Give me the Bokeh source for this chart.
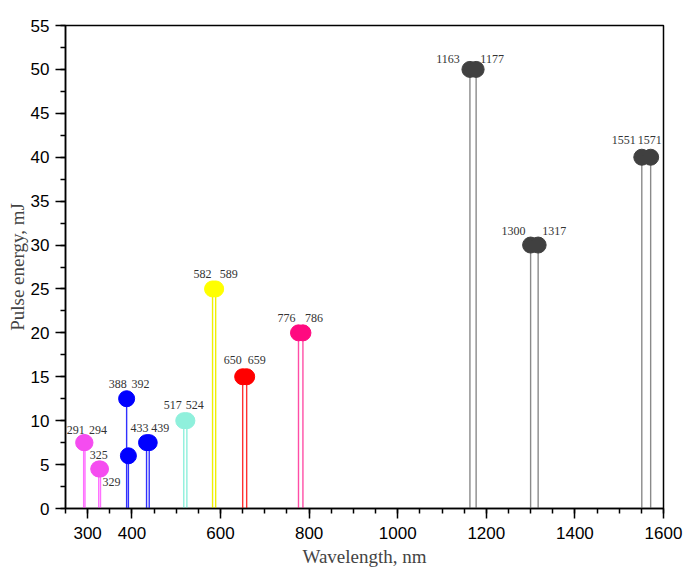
import bokeh.plotting
from bokeh.models import ColumnDataSource, FixedTicker, Range1d
from bokeh.core.properties import value
from bokeh.embed import file_html
from bokeh.resources import INLINE

# harmonics / pump lines, listed in pairs (left, right)
wavelength = [291, 294, 325, 329, 388, 392, 433, 439, 517, 524, 582, 589,
              650, 659, 776, 786, 1163, 1177, 1300, 1317, 1551, 1571]
energy = [7.5, 7.5, 4.5, 4.5, 12.5, 6, 7.5, 7.5, 10, 10, 25, 25,
          15, 15, 20, 20, 50, 50, 30, 30, 40, 40]

x_ticks = [300, 400, 600, 800, 1000, 1200, 1400, 1600]
y_ticks = [0, 5, 10, 15, 20, 25, 30, 35, 40, 45, 50, 55]

# colours, one per pair
dot_colors = ["#f54cf0", "#f54cf0", "#0000ff", "#0000ff", "#8ff0dc", "#ffff00",
              "#ff0000", "#ff0a80", "#404040", "#404040", "#404040"]
stem_colors = ["#ff70ff", "#ff70ff", "#3030ff", "#3030ff", "#8ff0dc", "#f0f000",
               "#ff3030", "#ff4da6", "#8a8a8a", "#8a8a8a", "#8a8a8a"]

# label nudges in screen px (placed by hand in the original)
label_dx = [-8, 13, 0, 11, -9, 12, -7, 11, -11, 8, -10, 13,
            -10, 10, -12, 11, -22, 16, -17, 16, -18, -1]
label_dy = [-13, -13, -14, 13, -15, -15, -15, -15, -16, -16, -15, -15,
            -17, -17, -15, -15, -10, -10, -14, -14, -17, -17]

n = len(wavelength)
pair_top = [max(energy[i - i % 2], energy[i - i % 2 + 1]) for i in range(n)]

src = ColumnDataSource(dict(
    x=wavelength,
    y=energy,
    y0=[0] * n,
    dot=[dot_colors[i // 2] for i in range(n)],
    stem=[stem_colors[i // 2] for i in range(n)],
))
lab = ColumnDataSource(dict(
    x=wavelength,
    y=pair_top,
    text=[str(w) for w in wavelength],
    dx=label_dx,
    dy=label_dy,
))

p = bokeh.plotting.figure(
    width=700,
    height=569,
    x_range=Range1d(250, 1600),
    y_range=Range1d(0, 55),
    output_backend="svg",
    toolbar_location=None,
    min_border_left=65,
    min_border_right=37,
    min_border_top=25,
    min_border_bottom=60,
    x_axis_label="Wavelength, nm",
    y_axis_label="Pulse energy, mJ",
)

p.segment(x0="x", y0="y0", x1="x", y1="y", line_color="stem", line_width=1.4, source=src)
p.scatter(x="x", y="y", size=16, fill_color="dot", line_color="dot", source=src)
p.text(x="x", y="y", text="text", x_offset="dx", y_offset="dy", source=lab,
       text_align="center", text_baseline="middle",
       text_font=value("Liberation Serif"), text_font_size="12px", text_color="#333333")

p.xgrid.visible = False
p.ygrid.visible = False
p.outline_line_color = "black"
p.outline_line_width = 1.5
p.background_fill_color = "white"
p.border_fill_color = "white"

p.xaxis.ticker = FixedTicker(ticks=x_ticks, minor_ticks=list(range(250, 1601, 50)))
p.yaxis.ticker = FixedTicker(ticks=y_ticks, minor_ticks=[2.5 * i for i in range(23)])

for ax in (p.xaxis, p.yaxis):
    ax.axis_line_color = "black"
    ax.axis_line_width = 1.5
    ax.major_tick_line_color = "black"
    ax.major_tick_line_width = 1.5
    ax.minor_tick_line_color = "black"
    ax.minor_tick_line_width = 1.5
    ax.major_tick_in = 0
    ax.major_tick_out = 10
    ax.minor_tick_in = 0
    ax.minor_tick_out = 5
    ax.major_label_text_font = "Liberation Sans"
    ax.major_label_text_font_size = "17px"
    ax.major_label_text_color = "black"
    ax.axis_label_text_font = "Liberation Serif"
    ax.axis_label_text_font_size = "19px"
    ax.axis_label_text_font_style = "normal"
    ax.axis_label_text_color = "#444444"

p.xaxis.major_label_standoff = 8
p.xaxis.axis_label_standoff = 4
p.yaxis.major_label_standoff = 6
p.yaxis.axis_label_standoff = 0

open("out.html", "w").write(file_html(p, INLINE))
